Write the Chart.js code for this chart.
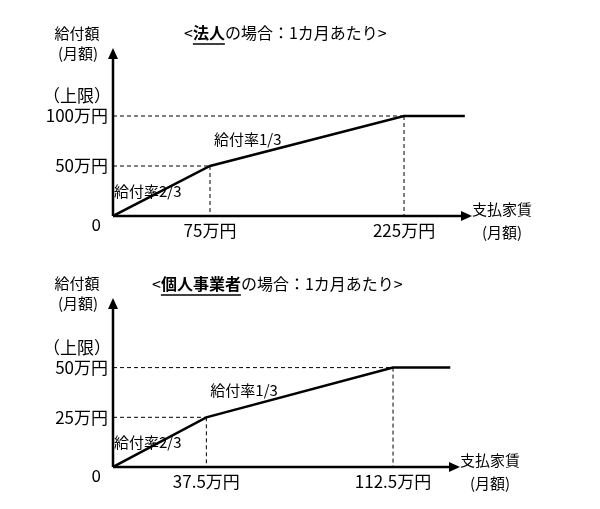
<!DOCTYPE html>
<html><head><meta charset="utf-8">
<script src="https://cdn.jsdelivr.net/npm/chart.js@4"></script>
<style>
body{margin:0;background:#fff;width:600px;height:509px;overflow:hidden}
.box{position:absolute;left:0;width:600px}
</style></head><body>
<div class="box" style="top:0;height:250px"><canvas id="c1"></canvas></div>
<div class="box" style="top:250px;height:259px"><canvas id="c2"></canvas></div>
<script>
// 法人
const corpRent = [0, 75, 225, 272];
const corpBenefit = [0, 50, 100, 100];
const corpTicksX = ["75万円", "225万円"];
const corpTicksY = ["50万円", "100万円"];
// 個人事業者
const soleRent = [0, 37.5, 112.5, 135.5];
const soleBenefit = [0, 25, 50, 50];
const soleTicksX = ["37.5万円", "112.5万円"];
const soleTicksY = ["25万円", "50万円"];

const FONT = '"Noto Sans CJK JP", sans-serif';

const diagram = {
    id: 'diagram',
    afterDatasetsDraw(chart, args, o) {
        const c = chart.ctx, x = chart.scales.x, y = chart.scales.y;
        const a = chart.chartArea;
        const px = v => x.getPixelForValue(v), py = v => y.getPixelForValue(v);
        c.save();
        // dashed guides
        c.strokeStyle = '#000'; c.lineWidth = 1; c.setLineDash([4, 3]);
        c.beginPath();
        for (let i = 1; i <= 2; i++) {
            c.moveTo(a.left, py(o.benefit[i])); c.lineTo(px(o.rent[i]), py(o.benefit[i]));
            c.moveTo(px(o.rent[i]), py(o.benefit[i])); c.lineTo(px(o.rent[i]), a.bottom);
        }
        c.stroke();
        c.setLineDash([]);
        // axes with arrows
        c.lineWidth = 2.5;
        c.beginPath();
        c.moveTo(a.left, a.bottom); c.lineTo(a.right - 6, a.bottom);
        c.moveTo(a.left, a.bottom); c.lineTo(a.left, a.top + 6);
        c.stroke();
        c.fillStyle = '#000';
        c.beginPath();
        c.moveTo(a.right + 2, a.bottom); c.lineTo(a.right - 9, a.bottom - 5); c.lineTo(a.right - 9, a.bottom + 5); c.fill();
        c.beginPath();
        c.moveTo(a.left, a.top - 2); c.lineTo(a.left - 5, a.top + 9); c.lineTo(a.left + 5, a.top + 9); c.fill();
        // tick labels
        c.font = '17px ' + FONT; c.textBaseline = 'middle';
        c.textAlign = 'right';
        c.fillText(o.ticksY[0], a.left - 5, py(o.benefit[1]));
        c.fillText(o.ticksY[1], a.left - 5, py(o.benefit[2]));
        c.fillText('（上限）', a.left - 2, py(o.benefit[2]) - 20);
        c.fillText('0', a.left - 12, a.bottom + 9);
        c.textAlign = 'center';
        c.fillText(o.ticksX[0], px(o.rent[1]), a.bottom + 15);
        c.fillText(o.ticksX[1], px(o.rent[2]), a.bottom + 15);
        // axis titles
        c.font = '15px ' + FONT;
        c.fillText('給付額', a.left - 36, a.top - 17);
        c.fillText('(月額)', a.left - 35, a.top + 3);
        c.fillText('支払家賃', a.right + 32, a.bottom - 7);
        c.fillText('(月額)', a.right + 32, a.bottom + 16);
        // rate labels
        c.textAlign = 'left';
        c.fillText('給付率2/3', a.left + 1, a.bottom - 25);
        c.fillText('給付率1/3', px(o.rent[1]) + 4, py(o.benefit[1]) - 27);
        // title
        let tx = o.titleX, ty = o.titleY;
        const parts = [['<', false], [o.who, true], ['の場合：1カ月あたり>', false]];
        for (const [t, b] of parts) {
            c.font = (b ? 'bold 16px ' : '16px ') + FONT;
            const w = c.measureText(t).width;
            c.fillText(t, tx, ty);
            if (b) { c.lineWidth = 1.5; c.beginPath(); c.moveTo(tx, ty + 11); c.lineTo(tx + w, ty + 11); c.stroke(); }
            tx += w;
        }
        c.restore();
    }
};

function makeChart(id, rent, benefit, tx, ty, xMax, yMax, pad, who, titleX, titleY) {
    new Chart(document.getElementById(id), {
        type: 'line',
        data: { datasets: [{
            data: rent.map((r, i) => ({ x: r, y: benefit[i] })),
            borderColor: '#000', borderWidth: 2.5, pointRadius: 0, tension: 0, fill: false
        }] },
        options: {
            responsive: true, maintainAspectRatio: false, animation: false,
            layout: { padding: pad },
            plugins: { legend: { display: false }, tooltip: { enabled: false },
                diagram: { rent, benefit, ticksX: tx, ticksY: ty, who, titleX, titleY } },
            scales: {
                x: { type: 'linear', min: 0, max: xMax, display: false },
                y: { min: 0, max: yMax, display: false }
            }
        },
        plugins: [diagram]
    });
}

makeChart('c1', corpRent, corpBenefit, corpTicksX, corpTicksY, 276, 166,
    { left: 113, right: 130, top: 50, bottom: 34 }, '法人', 184, 33);
makeChart('c2', soleRent, soleBenefit, soleTicksX, soleTicksY, 138.6, 84,
    { left: 113, right: 142, top: 50, bottom: 42 }, '個人事業者', 152, 34);
</script>
</body></html>
